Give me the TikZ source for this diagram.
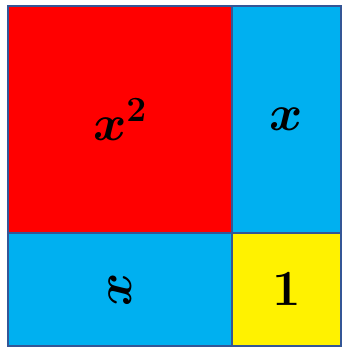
\RequirePackage{fix-cm}
\documentclass[tikz,border=0pt]{standalone}
\usepackage{amsmath}
\usepackage{amssymb}
\usepackage{tikz}
\usepackage{color}

\definecolor{edgeblue}{RGB}{52,86,150}
\definecolor{skyblue}{RGB}{0,176,240}

\begin{document}
\begin{tikzpicture}[x=0.025cm,y=-0.025cm,
  tile/.style={rectangle,draw=edgeblue,line width=1.4pt,inner sep=0pt,
    font=\fontsize{36}{42}\selectfont}]
\useasboundingbox (0,0) rectangle (342,347);
\node [tile,fill=red,minimum width=5.6cm,minimum height=5.675cm] (sq) at (120,119.5) {$\boldsymbol{x^2}$};
\node [tile,fill=skyblue,minimum width=2.725cm,minimum height=5.675cm] (top) at (286.5,119.5) {$\boldsymbol{x}$};
\node [tile,fill=skyblue,minimum width=5.6cm,minimum height=2.825cm] (bot) at (120,289.5) {};
\node [rotate=90,font=\fontsize{36}{42}\selectfont] (botx) at (bot) {$\boldsymbol{x}$};
\node [tile,fill=yellow,minimum width=2.725cm,minimum height=2.825cm] (one) at (286.5,289.5) {$\boldsymbol{1}$};
\end{tikzpicture}
\end{document}
